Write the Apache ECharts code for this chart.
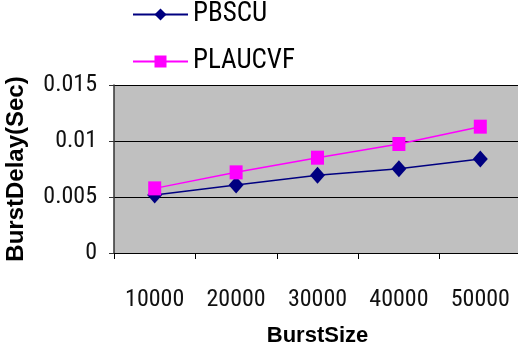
<!DOCTYPE html>
<html>
<head>
<meta charset="utf-8">
<script src="https://cdn.jsdelivr.net/npm/echarts@6/dist/echarts.min.js"></script>
<style>
  html, body { margin: 0; padding: 0; background: #ffffff; }
  #chart { width: 518px; height: 356px; }
</style>
</head>
<body>
<div id="chart"></div>
<script>
// Burst sizes on the category axis
const burstSizes = ['10000', '20000', '30000', '40000', '50000'];
// Burst delay in seconds for each scheme
const pbscuDelay = [0.00518, 0.00607, 0.00694, 0.00753, 0.00839];
const plaucvfDelay = [0.00577, 0.00720, 0.00851, 0.00973, 0.01128];
// Value axis tick labels
const delayTicks = ['0', '0.005', '0.01', '0.015'];

const narrow = '"Roboto Condensed", "Liberation Sans", Arial, sans-serif';
const regular = '"Liberation Sans", Arial, sans-serif';

const chart = echarts.init(document.getElementById('chart'), null, { renderer: 'canvas' });

chart.setOption({
  animation: false,
  backgroundColor: '#ffffff',
  legend: {
    orient: 'vertical',
    left: 132,
    top: 1,
    padding: 0,
    itemWidth: 55,
    itemHeight: 15,
    itemGap: 20,
    textStyle: { fontFamily: narrow, fontSize: 27, color: '#000000' },
    data: ['PBSCU', 'PLAUCVF']
  },
  grid: {
    left: 114,
    top: 85,
    width: 407,
    height: 168,
    outerBoundsMode: 'none',
    containLabel: false,
    show: true,
    backgroundColor: '#c0c0c0',
    borderWidth: 0
  },
  xAxis: {
    type: 'category',
    data: burstSizes,
    boundaryGap: true,
    name: 'BurstSize',
    nameLocation: 'middle',
    nameGap: 72,
    nameMoveOverlap: false,
    nameTextStyle: { fontFamily: regular, fontWeight: 'bold', fontSize: 22, color: '#000000' },
    axisLine: { lineStyle: { color: '#000000', width: 1 } },
    axisTick: { show: true, length: 6, interval: 0, lineStyle: { color: '#000000' } },
    axisLabel: { interval: 0, margin: 35, fontFamily: narrow, fontSize: 24, color: '#111111' }
  },
  yAxis: {
    type: 'value',
    min: 0,
    max: 0.015,
    interval: 0.005,
    name: 'BurstDelay(Sec)',
    nameLocation: 'middle',
    nameGap: 86,
    nameMoveOverlap: false,
    nameTextStyle: { fontFamily: regular, fontWeight: 'bold', fontSize: 24, color: '#000000' },
    axisLine: { show: true, lineStyle: { color: '#333333', width: 1.5 } },
    axisTick: { show: true, length: 5, lineStyle: { color: '#333333' } },
    axisLabel: {
      margin: 17,
      fontFamily: narrow,
      fontSize: 24,
      color: '#111111',
      formatter: function (v) {
        const i = Math.round(v / 0.005);
        return delayTicks[i] !== undefined ? delayTicks[i] : String(v);
      }
    },
    splitLine: {
      show: true,
      lineStyle: { color: '#000000', width: 1 }
    }
  },
  series: [
    {
      name: 'PBSCU',
      type: 'line',
      data: pbscuDelay,
      symbol: 'diamond',
      symbolSize: [15, 17],
      itemStyle: { color: '#000080' },
      lineStyle: { color: '#000080', width: 1.5 }
    },
    {
      name: 'PLAUCVF',
      type: 'line',
      data: plaucvfDelay,
      symbol: 'rect',
      symbolSize: [13, 14],
      itemStyle: { color: '#ff00ff' },
      lineStyle: { color: '#ff00ff', width: 1.5 }
    }
  ]
});
</script>
</body>
</html>
